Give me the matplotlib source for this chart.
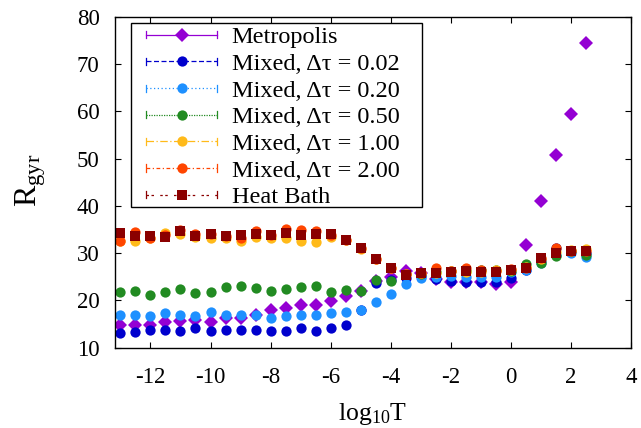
import matplotlib
matplotlib.use("Agg")
import matplotlib.pyplot as plt
from matplotlib.lines import Line2D
from matplotlib.patches import Rectangle
from matplotlib.legend_handler import HandlerBase

plt.rcParams['font.family'] = ['Liberation Serif', 'DejaVu Serif']
plt.rcParams['mathtext.fontset'] = 'custom'
plt.rcParams['mathtext.rm'] = 'Liberation Serif'
plt.rcParams['mathtext.it'] = 'Liberation Serif:italic'

# ---------------- data ----------------
log10T = [-13, -12.5, -12, -11.5, -11, -10.5, -10, -9.5, -9, -8.5, -8, -7.5, -7, -6.5,
          -6, -5.5, -5, -4.5, -4, -3.5, -3, -2.5, -2, -1.5, -1, -0.5, 0, 0.5, 1, 1.5, 2, 2.5]

metropolis = [14.8, 14.8, 14.8, 15.5, 15.6, 15.9, 15.5, 16.2, 16.2, 16.9, 18.0, 18.5, 19.0, 19.1,
              19.9, 21.0, 22.0, 24.2, 25.0, 26.2, 25.8, 24.6, 24.0, 23.8, 23.8, 23.5, 23.8, 31.7,
              41.1, 50.7, 59.5, 74.4]
mixed_002 = [13.2, 13.4, 13.7, 13.7, 13.5, 14.2, 13.5, 13.7, 13.7, 13.7, 13.5, 13.5, 14.1, 13.5,
             14.1, 14.9, 18.0, 23.6, 24.3, 24.8, 25.2, 24.5, 24.1, 23.9, 23.9, 24.0, 24.7, 26.5,
             28.5, 31.0, 30.5, 30.0]
mixed_020 = [16.9, 16.9, 16.7, 17.3, 16.9, 16.6, 17.6, 16.9, 16.9, 16.9, 16.2, 16.6, 16.9, 16.9,
             17.4, 17.6, 18.0, 19.7, 21.3, 23.4, 24.8, 25.0, 25.2, 25.0, 25.0, 25.0, 26.0, 26.5,
             28.0, 29.5, 30.0, 29.2]
mixed_050 = [21.8, 21.9, 21.1, 21.8, 22.4, 21.6, 21.7, 22.9, 23.0, 22.6, 21.9, 22.4, 22.9, 23.1,
             21.8, 22.2, 22.0, 24.3, 24.2, 25.5, 25.6, 26.0, 26.3, 26.3, 26.4, 26.4, 26.3, 27.6,
             28.0, 29.4, 30.5, 29.7]
mixed_100 = [32.5, 32.6, 33.2, 34.3, 34.0, 33.5, 33.3, 33.3, 32.6, 33.5, 33.3, 33.2, 32.6, 32.3,
             33.5, 32.8, 30.8, 28.7, 26.8, 25.5, 25.8, 25.8, 26.2, 26.0, 26.0, 26.5, 26.5, 27.0,
             28.8, 30.2, 30.6, 30.8]
mixed_200 = [32.6, 34.5, 33.2, 33.8, 34.8, 34.1, 34.0, 33.6, 33.2, 34.7, 33.8, 35.0, 34.9, 34.7,
             33.8, 32.8, 31.0, 28.7, 26.8, 25.6, 25.9, 26.8, 26.3, 26.9, 26.5, 26.2, 26.6, 26.8,
             28.9, 31.0, 30.4, 30.5]
heat_bath = [34.2, 33.7, 33.6, 33.5, 34.7, 33.6, 34.0, 33.7, 33.8, 34.0, 33.8, 34.2, 33.8, 34.0,
             34.0, 32.8, 31.0, 28.7, 26.8, 25.4, 25.7, 25.7, 26.1, 26.2, 26.0, 26.1, 26.4, 26.8,
             28.9, 30.0, 30.4, 30.4]

labels = ["Metropolis", "Mixed, Δτ = 0.02", "Mixed, Δτ = 0.20", "Mixed, Δτ = 0.50",
          "Mixed, Δτ = 1.00", "Mixed, Δτ = 2.00", "Heat Bath"]
x_ticks = [-12, -10, -8, -6, -4, -2, 0, 2, 4]
y_ticks = [10, 20, 30, 40, 50, 60, 70, 80]

# ---------------- styles ----------------
series = [metropolis, mixed_002, mixed_020, mixed_050, mixed_100, mixed_200, heat_bath]
colors = ["#9400D3", "#0000CD", "#1E90FF", "#228B22", "#FFBA1A", "#FF4500", "#8B0000"]
markers = ["D", "o", "o", "o", "o", "o", "s"]
msizes = [7.6, 7.4, 7.4, 7.4, 7.4, 7.4, 7.6]
dashes = [None, (4, 2), (1, 2), (1, 1), (6, 2, 1, 2), (3, 2, 1, 2), (2, 2, 2, 5)]

FS_TICK = 16.5
FS_LEG = 17.5
W, H = 641, 428
fig = plt.figure(figsize=(W / 100, H / 100), dpi=100)
L, R, T, B = 115, 631, 16.7, 347.7
ax = fig.add_axes([L / W, (H - B) / H, (R - L) / W, (B - T) / H])

for ys, c, m, ms in zip(series, colors, markers, msizes):
    ax.plot(log10T, ys, linestyle='none', marker=m, ms=ms, color=c, mec=c, mew=0)

ax.set_xlim(-13.18, 4)
ax.set_ylim(10, 80)
ax.set_xticks(x_ticks)
ax.set_xticklabels([str(v) for v in x_ticks])
ax.set_yticks(y_ticks)
ax.tick_params(direction='in', length=4.3, width=0.8, top=True, right=True,
               labelsize=FS_TICK, color='black')
ax.tick_params(axis='y', pad=11)
ax.tick_params(axis='x', pad=14)
for s in ax.spines.values():
    s.set_linewidth(1.0)

fig.text(373 / W, (H - 420) / H, r"log$_{10}$T", ha='center', va='baseline', fontsize=18.5)
fig.text(37 / W, (H - 180) / H, r"R$_{\mathrm{gyr}}$", ha='center', va='baseline',
         rotation=90, rotation_mode='anchor', fontsize=23)


class ErrHandler(HandlerBase):
    def __init__(self, color, marker, ms, dash):
        super().__init__()
        self.c, self.m, self.ms, self.dash = color, marker, ms, dash

    def create_artists(self, legend, orig_handle, xdescent, ydescent, width, height,
                       fontsize, trans):
        inset = 8.4
        y = height / 2 - ydescent
        x0 = -xdescent + inset
        x1 = -xdescent + width
        line = Line2D([x0, x1], [y, y], color=self.c, lw=0.9)
        if self.dash is not None:
            line.set_dashes(self.dash)
        caph = 2.6
        cl = Line2D([x0, x0], [y - caph, y + caph], color=self.c, lw=0.9)
        cr = Line2D([x1, x1], [y - caph, y + caph], color=self.c, lw=0.9)
        mk = Line2D([(x0 + x1) / 2], [y], linestyle='none', marker=self.m, ms=self.ms,
                    color=self.c, mew=0)
        arts = [line, cl, cr, mk]
        for a in arts:
            a.set_transform(trans)
        return arts


# legend frame (drawn as a box in axes coordinates)
lx0 = (130.7 - L) / (R - L)
lx1 = (421.7 - L) / (R - L)
ltop = (B - 22.7) / (B - T)
lbot = (B - 206.7) / (B - T)
ax.add_patch(Rectangle((lx0, lbot), lx1 - lx0, ltop - lbot, transform=ax.transAxes,
                       facecolor='white', edgecolor='black', lw=1.0, zorder=4.9,
                       clip_on=False))

proxies = [Line2D([], []) for _ in labels]
hmap = {p: ErrHandler(c, m, ms, d) for p, c, m, ms, d in zip(proxies, colors, markers, msizes, dashes)}
fs_px = FS_LEG * 100 / 72
leg = ax.legend(proxies, labels, handler_map=hmap, loc='upper left',
                bbox_to_anchor=(lx0, ltop), frameon=False,
                borderaxespad=0, borderpad=0.15, fontsize=FS_LEG,
                handlelength=83.0 / fs_px,
                handletextpad=0.59, labelspacing=0.19, handleheight=0.7)
leg.set_zorder(5)

fig.savefig("out.png", dpi=100)
